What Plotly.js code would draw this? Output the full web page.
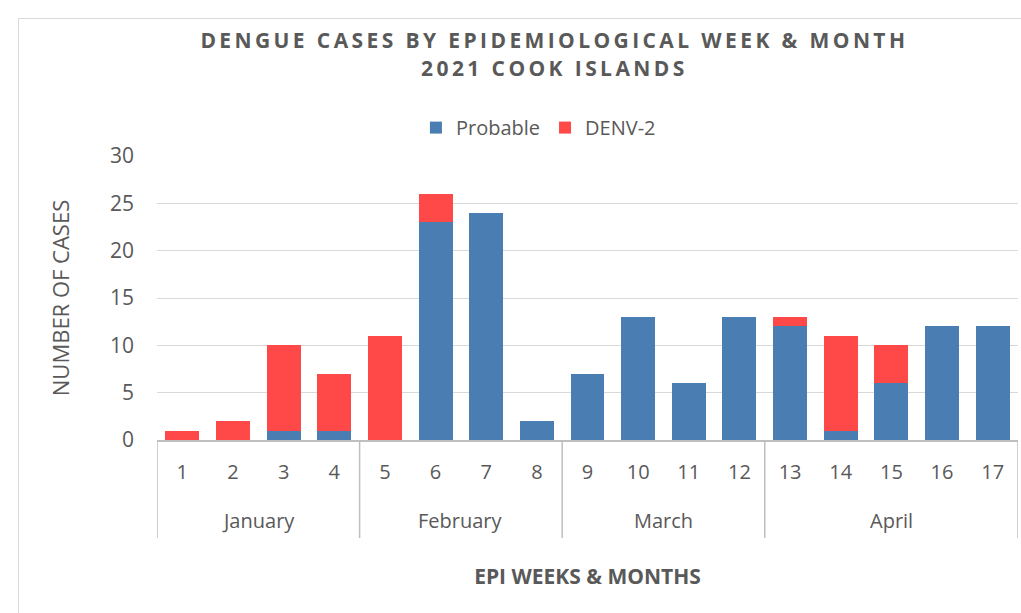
<!DOCTYPE html>
<html>
<head>
<meta charset="utf-8">
<script src="https://cdn.plot.ly/plotly-3.0.1.min.js"></script>
<style>
  html, body { margin: 0; padding: 0; background: #ffffff; }
  #frame { position: absolute; left: 18px; top: 18px; width: 1100px; height: 700px; border: 1px solid #d9d9d9; box-sizing: border-box; }
  #chart { position: absolute; left: 0; top: 0; width: 1021px; height: 613px; }
</style>
</head>
<body>
<div id="frame"></div>
<div id="chart"></div>
<script>
// Data
var months = ['January','January','January','January',
              'February','February','February','February',
              'March','March','March','March',
              'April','April','April','April','April'];
var weeks = ['1','2','3','4','5','6','7','8','9','10','11','12','13','14','15','16','17'];
var probable = [0, 0, 1, 1, 0, 23, 24, 2, 7, 13, 6, 13, 12, 1, 6, 12, 12];
var denv2    = [1, 2, 9, 6, 11, 3, 0, 0, 0, 0, 0, 0, 1, 10, 4, 0, 0];
var yTicks = [0, 5, 10, 15, 20, 25, 30];

var FONT = 'Open Sans, sans-serif';
var TXT = '#595959';
var AXC = '#bfbfbf';

// Month groups (start / end category index) derived from the months array
var groups = [];
months.forEach(function (m, i) {
  var g = groups[groups.length - 1];
  if (!g || g.name !== m) groups.push({ name: m, start: i, end: i });
  else g.end = i;
});

var shapes = [];
var annotations = [];
groups.forEach(function (g, k) {
  if (k === 0) {
    shapes.push({ type: 'line', xref: 'x', yref: 'paper', x0: g.start - 0.5, x1: g.start - 0.5,
                  y0: 0, y1: -0.345, line: { color: AXC, width: 1.5 } });
  }
  shapes.push({ type: 'line', xref: 'x', yref: 'paper', x0: g.end + 0.5, x1: g.end + 0.5,
                y0: 0, y1: -0.345, line: { color: AXC, width: 1.5 } });
  annotations.push({ xref: 'x', yref: 'paper', x: (g.start + g.end) / 2, y: -0.283,
                     xanchor: 'center', yanchor: 'middle', showarrow: false, text: g.name,
                     font: { family: FONT, size: 20, color: TXT } });
});

var traces = [
  {
    type: 'bar', name: 'Probable',
    x: weeks, y: probable,
    marker: { color: '#4a7eb2' },
    hoverinfo: 'y+name'
  },
  {
    type: 'bar', name: 'DENV-2',
    x: weeks, y: denv2,
    marker: { color: '#ff4848' },
    hoverinfo: 'y+name'
  }
];

var layout = {
  width: 1021, height: 613,
  paper_bgcolor: 'rgba(0,0,0,0)', plot_bgcolor: 'rgba(0,0,0,0)',
  margin: { l: 157, r: 3, t: 156, b: 173 },
  barmode: 'stack', bargap: 0.33,
  font: { family: FONT, color: TXT, size: 20 },
  title: {
    text: '<span style="letter-spacing:3.4px">DENGUE CASES BY EPIDEMIOLOGICAL WEEK &amp; MONTH</span>' +
          '<br><span style="letter-spacing:3.4px">2021 COOK ISLANDS</span>',
    font: { family: FONT, size: 21, weight: 'bold', color: TXT },
    xref: 'container', x: 0.543, xanchor: 'center',
    yref: 'container', y: 0.921, yanchor: 'top'
  },
  showlegend: true,
  legend: {
    orientation: 'h', x: 0.443, xanchor: 'center', y: 1.1, yanchor: 'middle',
    font: { family: FONT, size: 20, color: TXT },
    traceorder: 'normal', itemwidth: 30
  },
  xaxis: {
    type: 'category',
    range: [-0.5, weeks.length - 0.5],
    showline: true, linecolor: AXC, linewidth: 1.5,
    ticks: '', ticklabelstandoff: 13,
    tickfont: { family: FONT, size: 20, color: TXT },
    showgrid: false,
    title: { text: 'EPI WEEKS &amp; MONTHS', standoff: 86,
             font: { family: FONT, size: 21, weight: 'bold', color: TXT } }
  },
  yaxis: {
    range: [0, 30], tickvals: yTicks, ticktext: yTicks.map(String),
    showgrid: true, gridcolor: '#d9d9d9', gridwidth: 1,
    zeroline: false, showline: false, ticks: '',
    ticklabelstandoff: 22,
    tickfont: { family: FONT, size: 21, color: TXT },
    title: { text: 'NUMBER OF CASES', standoff: 34,
             font: { family: FONT, size: 22, color: TXT } }
  },
  shapes: shapes,
  annotations: annotations
};

Plotly.newPlot('chart', traces, layout, { displayModeBar: false, staticPlot: true });
</script>
</body>
</html>
